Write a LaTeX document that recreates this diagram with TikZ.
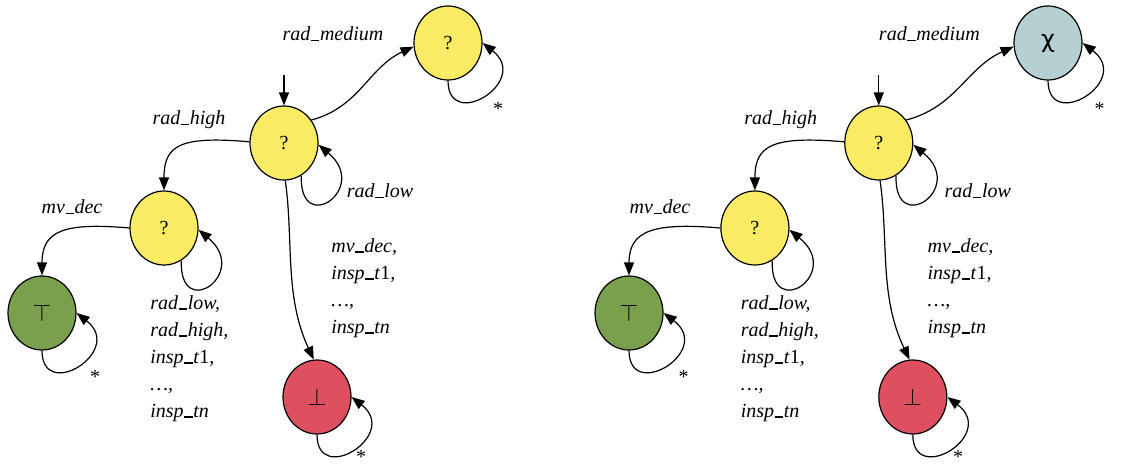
\documentclass[tikz,border=0pt]{standalone}
\usepackage{fontspec}
\setmainfont{Liberation Serif}
\newfontfamily\greekfont{DejaVu Sans}
\usetikzlibrary{arrows.meta,shapes.geometric}

\definecolor{yellowfill}{RGB}{249,235,99}
\definecolor{greenfill}{RGB}{122,160,77}
\definecolor{redfill}{RGB}{222,80,95}
\definecolor{greyfill}{RGB}{180,208,210}

% underscore drawn as a short bar on the baseline
\newcommand{\ubar}{\kern0.03em\rule[-0.3pt]{0.42em}{0.8pt}\kern0.03em}

\tikzset{
  statenode/.style={ellipse, draw, line width=0.6pt, minimum width=34pt,
    minimum height=37pt, inner sep=0pt, font=\fontsize{10}{12}\selectfont},
  edge/.style={line width=0.6pt, -{Triangle[length=6.5pt,width=5pt]}},
  lbl/.style={inner sep=0pt, font=\fontsize{10}{13.5}\selectfont\itshape, align=left},
  starlbl/.style={inner sep=0pt, font=\fontsize{10}{12}\selectfont},
}

\begin{document}
\begin{tikzpicture}[x=0.5pt, y=0.5pt]

  % Fix the size of the page
  \useasboundingbox (0,0) rectangle (1143,467);

  % The two automata only differ in the state reached by rad_medium
  \foreach \g/\gx/\gs/\mfill/\mtext in {l/0pt/0.5pt/yellowfill/?,
      r/292.83pt/0.516pt/greyfill/{\greekfont\fontsize{12}{12}\selectfont χ}} {
  \begin{scope}[xshift=\gx, x=\gs, name prefix=\g-]

    % States
    \node[statenode, fill=\mfill] (M) at (448,424) {\mtext};
    \node[statenode, fill=yellowfill] (S) at (284,324) {?};
    \node[statenode, fill=yellowfill] (H) at (164,239) {?};
    \node[statenode, fill=greenfill] (T) at (42,154) {\fontsize{13}{13}\selectfont$\top$};
    \node[statenode, fill=redfill] (B) at (317,70) {\fontsize{13}{13}\selectfont$\bot$};

    % Initial arrow
    \coordinate (init) at (284,392);
    \draw[edge] (init) -- (S);

    % Transitions between states
    \draw[edge] (S.40) .. controls +(15:50) and +(205:50) .. (M.186);
    \draw[edge] (S.178) .. controls +(175:70) and +(90:45) .. (H.90);
    \draw[edge] (H.180) .. controls +(175:65) and +(90:45) .. (T.90);
    \draw[edge] (S.-88) .. controls +(-82:60) and +(115:70) .. (B.95);

    % Self loops
    \draw[edge] (S.-62) .. controls +(-92:62) and +(-40:68) .. (S.-3);
    \draw[edge] (H.-62) .. controls +(-92:62) and +(-40:68) .. (H.-3);
    \foreach \n in {M,T,B}
      \draw[edge] (\n.-90) .. controls +(-90:52) and +(-38:62) .. (\n.0);

    % Labels
    \node[lbl] (medlbl) at (333,433) {rad\ubar medium};
    \node[lbl] (highlbl) at (189,347) {rad\ubar high};
    \node[lbl] (lowlbl) at (380,276) {rad\ubar low};
    \node[lbl] (declbl) at (72,260) {mv\ubar dec};
    \node[lbl, anchor=north west] (hlooplbl) at (150,172)
      {rad\ubar low,\\ rad\ubar high,\\ insp\ubar t\textup{1},\\ \ldots,\\ insp\ubar tn};
    \node[lbl, anchor=north west] (faillbl) at (331,229)
      {mv\ubar dec,\\ insp\ubar t\textup{1},\\ \ldots,\\ insp\ubar tn};
    \node[starlbl] (mstar) at (498,358) {*};
    \node[starlbl] (tstar) at (95,90) {*};
    \node[starlbl] (bstar) at (361,10) {*};

  \end{scope}
  }

\end{tikzpicture}
\end{document}
